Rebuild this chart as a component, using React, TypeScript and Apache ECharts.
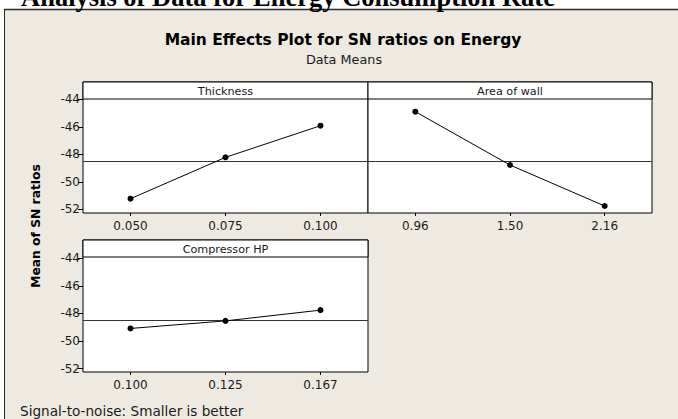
import React, { useEffect, useRef } from "react";
import * as echarts from "echarts";

const thicknessLevels = ["0.050", "0.075", "0.100"];
const thicknessMeans = [-51.23, -48.22, -45.92];
const areaLevels = ["0.96", "1.50", "2.16"];
const areaMeans = [-44.9, -48.78, -51.76];
const compressorLevels = ["0.100", "0.125", "0.167"];
const compressorMeans = [-49.09, -48.54, -47.76];
const panelTitles = ["Thickness", "Area of wall", "Compressor HP"];
const yTicks = [-52, -50, -48, -46, -44];
const grandMean = -48.47;

const FONT = "DejaVu Sans";

export default function App() {
  const ref = useRef<HTMLDivElement>(null);
  useEffect(() => {
    if (!ref.current) return;
    const chart = echarts.init(ref.current, null, { renderer: "svg" });
    const grids = [
      { left: 83, top: 82, width: 285, height: 131 },
      { left: 368, top: 82, width: 284, height: 131 },
      { left: 83, top: 240, width: 285, height: 132 },
    ];
    const levels = [thicknessLevels, areaLevels, compressorLevels];
    const means = [thicknessMeans, areaMeans, compressorMeans];
    const option: any = {
      animation: false,
      backgroundColor: "#EEEAE1",
      grid: grids.map((g) => ({
        ...g,
        show: true,
        backgroundColor: "#ffffff",
        borderColor: "#000000",
        borderWidth: 1,
      })),
      xAxis: levels.map((lv, i) => ({
        type: "category",
        gridIndex: i,
        data: lv,
        boundaryGap: true,
        axisLine: { show: false },
        axisTick: { show: true, alignWithLabel: true, length: 3, lineStyle: { color: "#000" } },
        axisLabel: { fontFamily: FONT, fontSize: 12, color: "#1a1a1a", margin: 7 },
        splitLine: { show: false },
      })),
      yAxis: levels.map((_, i) => ({
        type: "value",
        gridIndex: i,
        min: i === 2 ? -52.25 : -52.27,
        max: i === 2 ? -42.67 : -42.74,
        axisLine: { show: false },
        splitLine: { show: false },
        axisTick: {
          show: i !== 1,
          length: 5,
          customValues: yTicks,
          lineStyle: { color: "#000" },
        },
        axisLabel: {
          show: i !== 1,
          customValues: yTicks,
          fontFamily: FONT,
          fontSize: 12,
          color: "#1a1a1a",
          margin: 3,
        },
      })),
      series: means.map((m, i) => ({
        type: "line",
        xAxisIndex: i,
        yAxisIndex: i,
        data: m,
        symbol: "circle",
        symbolSize: 6,
        itemStyle: { color: "#000" },
        lineStyle: { color: "#000", width: 1 },
        z: 5,
        markLine: {
          silent: true,
          symbol: "none",
          label: { show: false },
          lineStyle: { color: "#333", width: 1, type: "solid" },
          data: [{ yAxis: grandMean }],
          z: 3,
        },
      })),
      graphic: [
        { type: "rect", z: 0, shape: { x: 0, y: 0, width: 678, height: 9.5 }, style: { fill: "#ffffff" } },
        { type: "rect", z: 0, shape: { x: 0, y: 0, width: 4, height: 419 }, style: { fill: "#ffffff" } },
        { type: "line", z: 1, shape: { x1: 4, y1: 9.5, x2: 678, y2: 9.5 }, style: { stroke: "#2a2a2a", lineWidth: 1.5 } },
        { type: "line", z: 1, shape: { x1: 4.5, y1: 9.5, x2: 4.5, y2: 419 }, style: { stroke: "#2a2a2a", lineWidth: 1 } },
        {
          type: "text",
          z: 1,
          style: {
            text: "Analysis of Data for Energy Consumption Rate",
            x: 21,
            y: -3,
            fill: "#000",
            font: "bold 26.5px 'Liberation Serif', serif",
            verticalAlign: "middle",
            textAlign: "left",
          },
        },
        {
          type: "text",
          z: 10,
          style: {
            text: "Main Effects Plot for SN ratios on Energy",
            x: 343,
            y: 40,
            fill: "#000",
            font: `bold 15.5px '${FONT}'`,
            textAlign: "center",
            verticalAlign: "middle",
          },
        },
        {
          type: "text",
          z: 10,
          style: {
            text: "Data Means",
            x: 344,
            y: 59.5,
            fill: "#1a1a1a",
            font: `12.8px '${FONT}'`,
            textAlign: "center",
            verticalAlign: "middle",
          },
        },
        {
          type: "text",
          z: 10,
          rotation: Math.PI / 2,
          x: 36,
          y: 226,
          style: {
            text: "Mean of SN ratios",
            x: 0,
            y: 0,
            fill: "#000",
            font: `bold 12.3px '${FONT}'`,
            textAlign: "center",
            verticalAlign: "middle",
          },
        },
        {
          type: "text",
          z: 10,
          style: {
            text: "Signal-to-noise: Smaller is better",
            x: 20,
            y: 411,
            fill: "#1a1a1a",
            font: `13.6px '${FONT}'`,
            textAlign: "left",
            verticalAlign: "middle",
          },
        },
        ...grids.flatMap((g, i) => [
          {
            type: "rect",
            z: 100,
            shape: { x: g.left, y: g.top, width: g.width, height: 17 },
            style: { fill: "#ffffff", stroke: "#000", lineWidth: 1 },
          },
          {
            type: "text",
            z: 101,
            style: {
              text: panelTitles[i],
              x: g.left + g.width / 2,
              y: g.top + 9,
              fill: "#1a1a1a",
              font: `11.2px '${FONT}'`,
              textAlign: "center",
              verticalAlign: "middle",
            },
          },
        ]),
      ],
    };
    chart.setOption(option);
    return () => chart.dispose();
  }, []);
  return (
    <div
      ref={ref}
      style={{ position: "absolute", left: 0, top: 0, width: 678, height: 419 }}
    />
  );
}
